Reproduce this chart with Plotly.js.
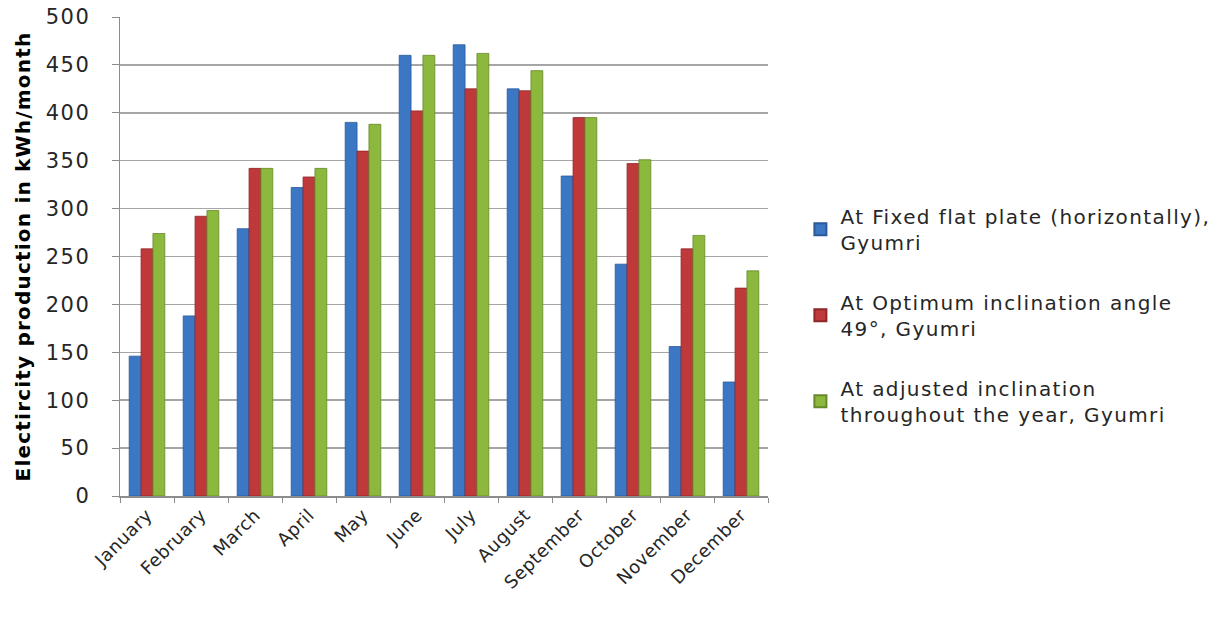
<!DOCTYPE html>
<html>
<head>
<meta charset="utf-8">
<script src="https://cdn.plot.ly/plotly-3.0.1.min.js"></script>
<style>
html,body{margin:0;padding:0;background:#fff;}
#chart{width:1227px;height:625px;}
.ytick text{letter-spacing:1.5px;}
.legendtext{letter-spacing:1.4px;}
.ytitle{letter-spacing:1.2px;}
.xtick text{letter-spacing:0.5px;}
</style>
</head>
<body>
<div id="chart"></div>
<script>
var months = ["January","February","March","April","May","June","July","August","September","October","November","December"];
var seriesNames = ["At Fixed flat plate (horizontally),<br>Gyumri","At Optimum inclination angle<br>49°, Gyumri","At adjusted inclination<br>throughout the year, Gyumri"];
var fixedFlat = [146, 188, 279, 322, 390, 460, 471, 425, 334, 242, 156, 119];
var optimum49 = [258, 292, 342, 333, 360, 402, 425, 423, 395, 347, 258, 217];
var adjusted = [274, 298, 342, 342, 388, 460, 462, 444, 395, 351, 272, 235];
var yTicks = [0,50,100,150,200,250,300,350,400,450,500];

var colors = ["#3b77c3","#c0393a","#8bb83d"];
var lines = ["#2a5a9a","#8e2627","#66892a"];
var vals = [fixedFlat, optimum49, adjusted];
var traces = vals.map(function(v,i){
  return {type:"bar", x:months, y:v, name:seriesNames[i], legendgroup:"g"+i,
    marker:{color:colors[i], line:{color:lines[i], width:0.8}}};
});
var font = "DejaVu Sans, sans-serif";
var layout = {
  width:1227, height:625,
  margin:{l:120, r:457, t:17, b:129},
  paper_bgcolor:"#fff", plot_bgcolor:"#fff",
  barmode:"group", bargap:0.34, bargroupgap:0,
  font:{family:font, color:"#262626", size:17},
  showlegend:true,
  legend:{x:1.05, xanchor:"left", y:0.625, yanchor:"top", font:{family:font, size:20, color:"#262626"},
    tracegroupgap:31, itemsizing:"constant", bgcolor:"rgba(0,0,0,0)"},
  xaxis:{tickangle:-45, showline:true, linecolor:"#8c8c8c", linewidth:1.5, ticks:"outside", tickson:"boundaries",
    ticklen:5, tickcolor:"#8c8c8c", tickfont:{family:font, size:18, color:"#262626"}, showgrid:false},
  yaxis:{range:[0,500], tickvals:yTicks, showline:true, linecolor:"#8c8c8c", linewidth:1.5, ticks:"outside", ticklen:7,
    tickcolor:"#8c8c8c", showgrid:true, gridcolor:"#a6a6a6", gridwidth:1.5, zeroline:false,
    tickfont:{family:font, size:21, color:"#262626"}, ticklabelstandoff:17,
    title:{text:"Electircity production in kWh/month", font:{family:"DejaVu Sans, sans-serif", size:20, color:"#000", weight:"bold"}, standoff:9}}
};
Plotly.newPlot("chart", traces, layout, {displayModeBar:false, staticPlot:true});
</script>
</body>
</html>
